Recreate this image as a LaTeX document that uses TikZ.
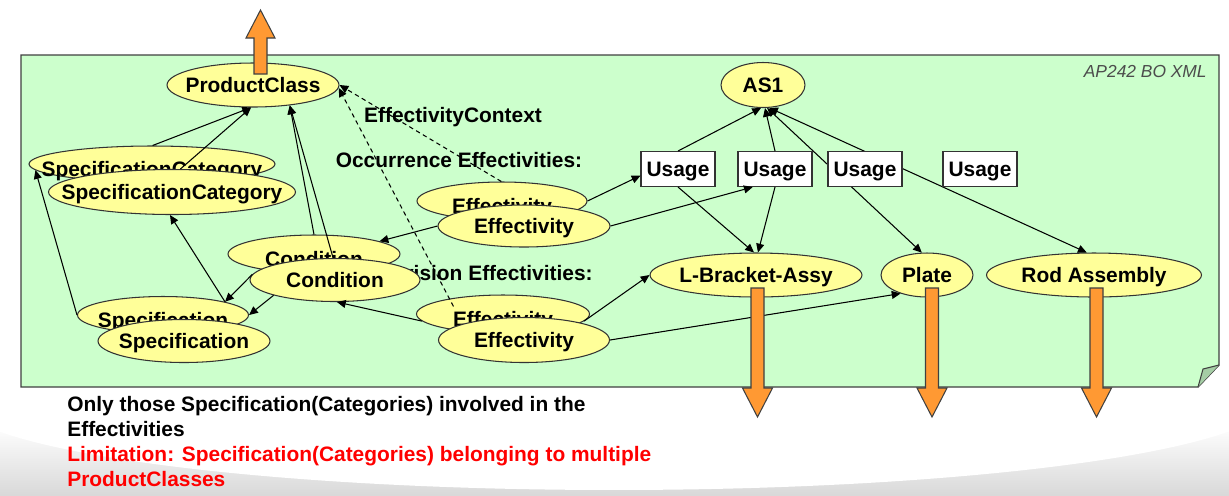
\documentclass[tikz,border=0pt]{standalone}
\usepackage{fontspec}
\setmainfont{Liberation Sans}
\usepackage{xcolor}
\usepackage{tikz}
\usetikzlibrary{arrows.meta, shapes.geometric}

\definecolor{panelgreen}{RGB}{204,255,204}
\definecolor{foldgreen}{RGB}{165,205,165}
\definecolor{nodeyellow}{RGB}{255,255,153}
\definecolor{bigorange}{RGB}{255,153,51}
\newcommand{\cname}[1]{\makebox[0pt]{#1}}

\begin{document}
\begin{tikzpicture}[
  x=0.02cm, y=-0.02cm,
  font=\fontsize{11.9}{14}\selectfont\bfseries,
  ell/.style={ellipse, draw=black!80, fill=nodeyellow, inner sep=0pt,
              line width=0.6pt, text height=8.5pt, text depth=0pt},
  backell/.style={ell, text height=14pt},
  usage/.style={draw=black!80, fill=white, inner sep=0pt, line width=0.6pt,
                minimum width=1.48cm, minimum height=0.7cm,
                text height=8.5pt, text depth=0pt},
  lbl/.style={inner sep=0pt, text height=8.5pt, text depth=0pt},
  arr/.style={-{Triangle[length=5pt,width=4.5pt]}, line width=0.6pt},
  biarr/.style={{Triangle[length=5pt,width=4.5pt]}-{Triangle[length=5pt,width=4.5pt]},
                line width=0.6pt},
  ctx/.style={arr, dash pattern=on 2.5pt off 2pt},
  bigarr/.style={draw=black!75, fill=bigorange, line width=0.6pt},
  note/.style={anchor=base west, inner sep=0pt}
]
  \useasboundingbox (0,0) rectangle (1229,495);

  % slide shadow and panel
  \shade[top color=white, bottom color=gray!30] (0,425) rectangle (1229,495);
  \fill[white] (614,398) ellipse [x radius=13.2cm, y radius=1.84cm];
  \draw[draw=black!75, fill=panelgreen, line width=0.8pt]
    (21,55) -- (1219,55) -- (1219,365) -- (1198,387) -- (21,387) -- cycle;
  \draw[draw=black!75, fill=foldgreen, line width=0.6pt]
    (1198,387) -- (1203,369) -- (1219,365);
  \node[anchor=east, inner sep=0pt, text=black!70,
        font=\fontsize{9.9}{12}\selectfont\itshape] (tag) at (1207,72) {AP242 BO XML};

  % section labels
  \node[lbl] (ctxlbl) at (453,115) {EffectivityContext};
  \node[lbl] (occlbl) at (459,160) {Occurrence Effectivities:};
  \node[lbl, anchor=east] (revlbl) at (593,273) {Revision Effectivities:};

  % classes and parts
  \node[ell, minimum width=3.44cm, minimum height=0.88cm] (pc) at (253,85) {\cname{ProductClass}};
  \node[ell, minimum width=1.68cm, minimum height=0.9cm] (as1) at (763,85) {\cname{AS1}};
  \node[ell, minimum width=4.24cm, minimum height=0.88cm] (lb) at (756,275) {\cname{L-Bracket-Assy}};
  \node[ell, minimum width=1.84cm, minimum height=0.88cm] (pl) at (927,275) {\cname{Plate}};
  \node[ell, minimum width=4.3cm, minimum height=0.88cm] (rod) at (1094,275) {\cname{Rod Assembly}};

  % stacked instances, back ones first
  \node[backell, minimum width=4.92cm, minimum height=0.72cm] (scB) at (152,164) {\cname{SpecificationCategory}};
  \node[ell, minimum width=4.94cm, minimum height=0.9cm] (scF) at (172,192) {\cname{SpecificationCategory}};
  \node[backell, minimum width=3.44cm, minimum height=0.76cm] (cdB) at (314,254) {\cname{Condition}};
  \node[ell, minimum width=3.4cm, minimum height=0.86cm] (cdF) at (335,280) {\cname{Condition}};
  \node[backell, minimum width=3.42cm, minimum height=0.74cm] (spB) at (163,315) {\cname{Specification}};
  \node[ell, minimum width=3.44cm, minimum height=0.86cm] (spF) at (184,341) {\cname{Specification}};
  \node[backell, minimum width=3.4cm, minimum height=0.76cm] (efOB) at (502,201) {\cname{Effectivity}};
  \node[ell, minimum width=3.44cm, minimum height=0.84cm] (efOF) at (524,226) {\cname{Effectivity}};
  \node[backell, minimum width=3.46cm, minimum height=0.76cm] (efRB) at (503,314) {\cname{Effectivity}};
  \node[ell, minimum width=3.42cm, minimum height=0.9cm] (efRF) at (524,340) {\cname{Effectivity}};

  \draw[biarr] (as1.280) -- (pl.103);
  \draw[biarr] (as1.285) -- (rod.108);

  \node[usage] (us1) at (678,169) {Usage};
  \node[usage] (us2) at (775,169) {Usage};
  \node[usage] (us3) at (865,169) {Usage};
  \node[usage] (us4) at (980,169) {Usage};

  \draw[arr] (scB.88) -- (pc.265);
  \draw[arr] (scF.70) -- (pc.265);
  \draw[arr] (cdB.north) -- (pc.331);
  \draw[arr] (cdF.95) -- (pc.331);
  \draw[arr] (spB.west) -- (scB.183);
  \draw[arr] (spB.12) -- (scF.265);
  \draw[arr] (cdF.176) -- (spB.12);
  \draw[arr] (cdF.194) -- (spB.east);
  \draw[arr] (efOF.west) -- (cdB.11);
  \draw[arr] (efOB.east) -- (us1.190);
  \draw[arr] (efOF.east) -- (us2.219);
  \draw[ctx] (efOB.92) -- (pc.east);
  \draw[ctx, shorten <=-5pt] (efRB.164) -- (pc.358);
  \draw[arr] (efRB.185) -- (cdF.275);
  \draw[arr] (efRB.355) -- (lb.west);
  \draw[arr] (efRF.east) -- (pl.215);
  \draw[arr] (us1.south) -- (lb.95);
  \draw[arr] (us2.south) -- (lb.85);
  \draw[arr] (us1.north) -- (as1.265);
  \draw[arr] (us2.north) -- (as1.275);

  % big orange arrows
  \draw[bigarr] (254,74) -- (254,38) -- (246,38) -- (260.5,10) -- (275,38)
    -- (267,38) -- (267,74) -- cycle;
  \foreach \cx in {757.5, 932, 1096.5}
    \draw[bigarr] ({\cx-6.5},288) -- ({\cx+6.5},288) -- ({\cx+6.5},388)
      -- ({\cx+15},388) -- (\cx,417) -- ({\cx-15},388) -- ({\cx-6.5},388) -- cycle;

  % notes under the panel
  \node[note] (note1) at (67,411) {Only those Specification(Categories) involved in the};
  \node[note] (note2) at (67,436) {Effectivities};
  \node[note, text=red] (lim1) at (67,461) {Limitation: Specification(Categories) belonging to multiple};
  \node[note, text=red] (lim2) at (67,486) {ProductClasses};
\end{tikzpicture}
\end{document}
